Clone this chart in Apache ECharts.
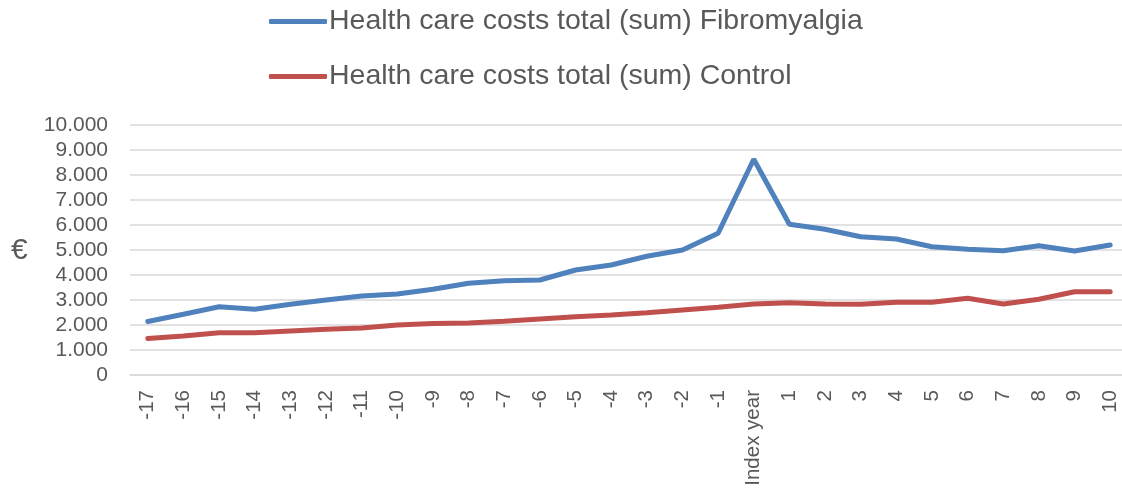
<!DOCTYPE html>
<html>
<head>
<meta charset="utf-8">
<script src="https://cdn.jsdelivr.net/npm/echarts@6/dist/echarts.min.js"></script>
<style>
  html, body { margin: 0; padding: 0; background: #fff; overflow: hidden; }
  #chart { width: 1130px; height: 493px; }
</style>
</head>
<body>
<div id="chart"></div>
<script>
const years = ["-17", "-16", "-15", "-14", "-13", "-12", "-11", "-10", "-9", "-8", "-7", "-6", "-5", "-4", "-3", "-2", "-1",
  "Index year", "1", "2", "3", "4", "5", "6", "7", "8", "9", "10"]
const fibromyalgia = [2140, 2430, 2730, 2630, 2830, 3000, 3160, 3240, 3430, 3670, 3770, 3800, 4200, 4400, 4750, 5000, 5670,
  8630, 6030, 5830, 5530, 5440, 5130, 5030, 4970, 5170, 4960, 5200]
const control = [1460, 1560, 1690, 1690, 1760, 1830, 1880, 2000, 2060, 2080, 2150, 2240, 2330, 2400, 2490, 2600, 2710,
  2840, 2890, 2840, 2830, 2910, 2910, 3070, 2840, 3030, 3330, 3330]

const font = "'Liberation Sans', 'DejaVu Sans', sans-serif"
const grey = "#595959"

// chart div is a bit wider than the window: the plot area runs past the right edge, as in the original
const chart = echarts.init(document.getElementById("chart"))
chart.setOption({
  animation: false,
  textStyle: { fontFamily: font, color: grey },
  legend: {
    orient: "vertical",
    left: 264,
    top: 0,
    icon: "roundRect",
    itemWidth: 58,
    itemHeight: 5,
    itemGap: 22,
    textStyle: { fontSize: 28.5, color: grey, fontFamily: font, lineHeight: 33, padding: [0, 0, 0, -3] },
  },
  graphic: [
    {
      type: "text",
      left: 11,
      top: 236,
      style: { text: "€", fontSize: 30, fill: grey, fontFamily: font },
    },
  ],
  grid: {
    left: 130,
    right: 2,
    top: 125,
    bottom: 118,
  },
  xAxis: {
    type: "category",
    data: years,
    boundaryGap: true,
    axisTick: { show: false },
    axisLine: { lineStyle: { color: "#d9d9d9", width: 1.5 } },
    axisLabel: {
      interval: 0,
      rotate: 90,
      margin: 15,
      fontSize: 20.5,
      color: grey,
    },
  },
  yAxis: {
    type: "value",
    min: 0,
    max: 10000,
    interval: 1000,
    axisLine: { show: false },
    axisTick: { show: false },
    splitLine: { lineStyle: { color: "#d9d9d9", width: 1.5 } },
    axisLabel: {
      fontSize: 21,
      color: grey,
      margin: 22,
      formatter: value => String(value).replace(/\B(?=(\d{3})+(?!\d))/g, "."),
    },
  },
  series: [
    {
      name: "Health care costs total (sum) Fibromyalgia",
      type: "line",
      data: fibromyalgia,
      symbol: "none",
      color: "#4f81bd",
      lineStyle: { width: 5, cap: "round" },
    },
    {
      name: "Health care costs total (sum) Control",
      type: "line",
      data: control,
      symbol: "none",
      color: "#c0504d",
      lineStyle: { width: 5, cap: "round" },
    },
  ],
})
window.addEventListener("resize", () => chart.resize())
</script>
</body>
</html>
